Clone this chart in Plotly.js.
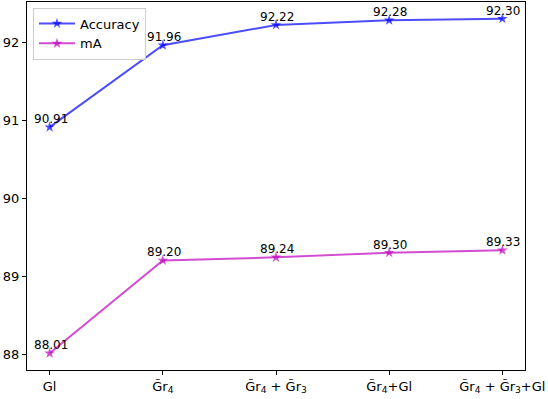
<!DOCTYPE html>
<html>
<head>
<meta charset="utf-8">
<script src="https://cdn.plot.ly/plotly-3.0.1.min.js"></script>
<style>html,body{margin:0;padding:0;background:#fff;}#chart{width:548px;height:399px;}</style>
</head>
<body>
<div id="chart"></div>
<script>
const categories = ["Gl", "G\u0303r<sub>4</sub>", "G\u0303r<sub>4</sub> + G\u0303r<sub>3</sub>", "G\u0303r<sub>4</sub>+Gl", "G\u0303r<sub>4</sub> + G\u0303r<sub>3</sub>+Gl"];
const accuracy = [90.91, 91.96, 92.22, 92.28, 92.30];
const mA = [88.01, 89.20, 89.24, 89.30, 89.33];
const seriesNames = ["Accuracy", "mA"];

const idx = categories.map((_, i) => i);
function trace(vals, name, color) {
  return {
    x: idx, y: vals, name: name, type: 'scatter', mode: 'lines+markers',
    line: {color: color, width: 2},
    marker: {symbol: 'star', size: 8, color: color},
    cliponaxis: false
  };
}
const data = [
  trace(accuracy, seriesNames[0], 'rgba(0,0,255,0.7)'),
  trace(mA, seriesNames[1], 'rgba(191,0,191,0.7)')
];
const annotations = [];
[accuracy, mA].forEach(vals => vals.forEach((v, i) => {
  annotations.push({x: idx[i], y: v, xref: 'x', yref: 'y', text: v.toFixed(2),
    showarrow: false, xanchor: 'center', yanchor: 'bottom', yshift: -1, xshift: 1,
    font: {family: 'DejaVu Sans', size: 12, color: '#000'}});
}));
const layout = {
  width: 548, height: 399,
  margin: {l: 27, r: 23, t: 2, b: 29},
  paper_bgcolor: '#fff', plot_bgcolor: '#fff',
  font: {family: 'DejaVu Sans', size: 13, color: '#000'},
  showlegend: true,
  annotations: annotations,
  legend: {x: 0.012, y: 0.985, xanchor: 'left', yanchor: 'top',
    bgcolor: 'rgba(255,255,255,0.8)', bordercolor: '#ccc', borderwidth: 1,
    font: {family: 'DejaVu Sans', size: 13}, itemwidth: 36},
  xaxis: {range: [-0.2, 4.2], tickvals: idx, ticktext: categories,
    showgrid: false, zeroline: false, showline: true, mirror: true,
    linecolor: '#000', linewidth: 1, ticks: 'outside', ticklen: 4, tickcolor: '#000',
    tickfont: {family: 'DejaVu Sans', size: 13}},
  yaxis: {range: [87.7955, 92.5145], tickvals: [88, 89, 90, 91, 92],
    showgrid: false, zeroline: false, showline: true, mirror: true,
    linecolor: '#000', linewidth: 1, ticks: 'outside', ticklen: 4, tickcolor: '#000',
    tickfont: {family: 'DejaVu Sans', size: 13}}
};
Plotly.newPlot('chart', data, layout, {displayModeBar: false, staticPlot: true});
</script>
</body>
</html>
